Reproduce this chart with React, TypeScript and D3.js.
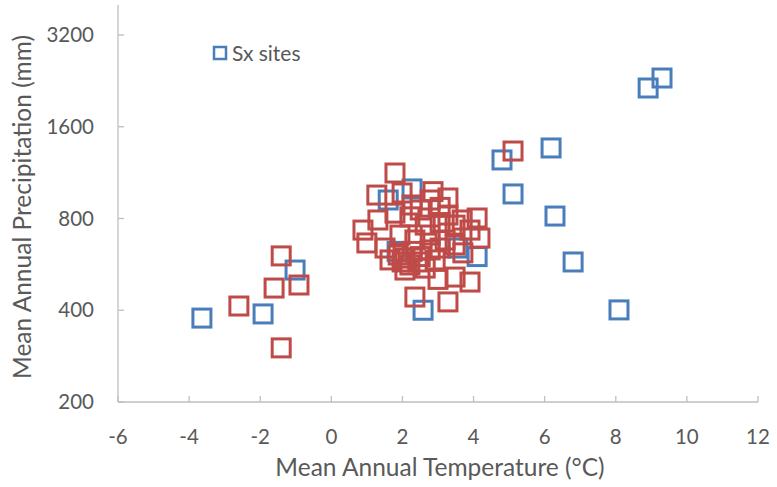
import React from "react";
import * as d3 from "d3";

// Mean annual temperature (°C) and precipitation (mm) per site
const sxTemp = [-3.64, -1.92, -1.02, 2.58, 4.8, 5.11, 6.18, 6.29, 6.8, 8.09, 8.91, 9.3, 2.27, 1.6, 3.56, 4.1, 1.85];
const sxPrecip = [377, 389, 542, 400, 1245, 963, 1363, 815, 576, 401, 2144, 2312, 1000, 920, 640, 600, 624];

const otherTemp = [
  -1.41, -1.61, -0.91, -2.6, -1.41, 5.11,
  1.79, 1.28, 1.99, 2.86, 2.78, 3.28, 2.27, 3.06, 2.5, 1.79, 1.31, 0.89, 1.0, 1.51,
  2.21, 2.64, 3.06, 3.48, 3.68, 4.1, 4.18, 3.9, 2.78, 3.2, 1.93, 2.35, 1.88, 2.07,
  2.27, 2.5, 2.78, 3.06, 1.99, 2.21, 2.43, 2.07, 2.64, 2.92, 3.7, 3.48, 3.9, 2.35,
  3.28, 3.0, 1.65, 3.48, 3.28,
];
const otherPrecip = [
  603, 473, 484, 413, 301, 1332,
  1128, 955, 970, 980, 920, 934, 886, 870, 853, 833, 791, 733, 665, 640,
  810, 761, 776, 761, 791, 803, 690, 733, 706, 680, 706, 680, 607, 593,
  624, 600, 631, 640, 576, 563, 576, 542, 550, 585, 617, 514, 495, 442,
  426, 505, 585, 655, 821,
];

const xTicks = [-6, -4, -2, 0, 2, 4, 6, 8, 10, 12];
const yTicks = [200, 400, 800, 1600, 3200];

const W = 777;
const H = 487;
const FONT = "Lato, 'Open Sans', sans-serif";
const TEXT = "#595959";
const AXIS = "#bfbfbf";
const BLUE = "#4a7ebb";
const RED = "#be4b48";
const MARK = 18;

export default function App() {
  const x = d3.scaleLinear().domain([-6, 12]).range([118, 758]);
  const y = d3.scaleLog().base(2).domain([200, 3200]).range([402, 35]);
  const axisTop = 5;

  const sx = sxTemp.map((t, i) => ({ t, p: sxPrecip[i] }));
  const other = otherTemp.map((t, i) => ({ t, p: otherPrecip[i] }));

  return (
    <svg
      width={W}
      height={H}
      style={{ position: "absolute", left: 0, top: 0, background: "#fff" }}
      fontFamily={FONT}
    >
      {/* axes */}
      <line x1={x(-6)} x2={x(12)} y1={y(200)} y2={y(200)} stroke={AXIS} strokeWidth={1.3} />
      <line x1={x(-6)} x2={x(-6)} y1={y(200)} y2={axisTop} stroke={AXIS} strokeWidth={1.3} />
      {xTicks.map((v) => (
        <g key={"xt" + v}>
          <line x1={x(v)} x2={x(v)} y1={y(200)} y2={y(200) - 6} stroke={AXIS} strokeWidth={1.3} />
          <text x={x(v)} y={y(200) + 42} textAnchor="middle" fontSize={20.5} fill={TEXT}>
            {v}
          </text>
        </g>
      ))}
      {yTicks.map((v) => (
        <g key={"yt" + v}>
          <line x1={x(-6)} x2={x(-6) + 6} y1={y(v)} y2={y(v)} stroke={AXIS} strokeWidth={1.3} />
          <text x={94} y={y(v)} dy="0.35em" textAnchor="end" fontSize={20.5} fill={TEXT}>
            {v}
          </text>
        </g>
      ))}

      {/* axis titles */}
      <text x={440} y={476} textAnchor="middle" fontSize={24.5} fill={TEXT}>
        Mean Annual Temperature (°C)
      </text>
      <text
        transform={`translate(31, 207) rotate(-90)`}
        textAnchor="middle"
        fontSize={24.5}
        fill={TEXT}
      >
        Mean Annual Precipitation (mm)
      </text>

      {/* points */}
      {sx.map((d, i) => (
        <rect
          key={"s" + i}
          x={x(d.t) - MARK / 2}
          y={y(d.p) - MARK / 2}
          width={MARK}
          height={MARK}
          fill="none"
          stroke={BLUE}
          strokeWidth={3}
        />
      ))}
      {other.map((d, i) => (
        <rect
          key={"o" + i}
          x={x(d.t) - MARK / 2}
          y={y(d.p) - MARK / 2}
          width={MARK}
          height={MARK}
          fill="none"
          stroke={RED}
          strokeWidth={3}
        />
      ))}

      {/* legend */}
      <rect x={214} y={47} width={12} height={12} fill="none" stroke={BLUE} strokeWidth={2.5} />
      <text x={232} y={61} fontSize={21} fill={TEXT}>
        Sx sites
      </text>
    </svg>
  );
}
